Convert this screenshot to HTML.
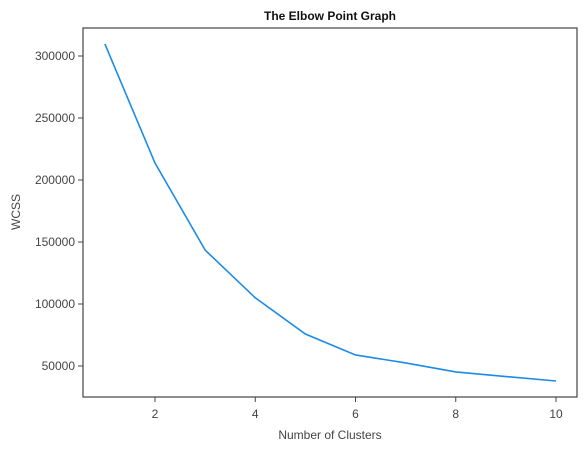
<!DOCTYPE html>
<html><head><meta charset="utf-8"><style>
body{margin:0;background:#fff;}
svg text{font-family:"Liberation Sans",sans-serif;}
</style></head><body>
<svg id="chart" width="588" height="451">
<rect x="83" y="28" width="494" height="369" fill="none" stroke="#444" stroke-width="1.2"/>
<text x="330" y="20" text-anchor="middle" font-size="12" font-weight="600" fill="#111">The Elbow Point Graph</text>
<text x="330" y="439" text-anchor="middle" font-size="12" fill="#444">Number of Clusters</text>
<text transform="translate(20,212) rotate(-90)" text-anchor="middle" font-size="12" fill="#444">WCSS</text>
<g id="ticks"></g>
<path id="line" fill="none" stroke="#1b8be8" stroke-width="1.6"/>
</svg>
<script>
const clusters=[1,2,3,4,5,6,7,8,9,10];
const wcss=[309700,213700,143500,105000,75800,58900,52500,45200,41500,37900];
const xTicks=[2,4,6,8,10];
const yTicks=[50000,100000,150000,200000,250000,300000];
const xs=v=>155+(v-2)*50.125;
const ys=v=>366-(v-50000)*0.00124;
const g=document.getElementById('ticks');
const NS='http://www.w3.org/2000/svg';
xTicks.forEach(t=>{
 const l=document.createElementNS(NS,'line');
 l.setAttribute('x1',xs(t));l.setAttribute('x2',xs(t));l.setAttribute('y1',397);l.setAttribute('y2',402);l.setAttribute('stroke','#444');
 
 
 g.appendChild(l);
 const tx=document.createElementNS(NS,'text');
 tx.setAttribute('x',xs(t));tx.setAttribute('y',418);tx.setAttribute('text-anchor','middle');tx.setAttribute('font-size','12');tx.setAttribute('fill','#444');
 tx.textContent=t;
 
 
 g.appendChild(tx);
});
yTicks.forEach(t=>{
 const l=document.createElementNS(NS,'line');
 l.setAttribute('x1',78);l.setAttribute('x2',83);l.setAttribute('y1',ys(t));l.setAttribute('y2',ys(t));l.setAttribute('stroke','#444');
 
 
 g.appendChild(l);
 const tx=document.createElementNS(NS,'text');
 tx.setAttribute('x',75);tx.setAttribute('y',ys(t)+4);tx.setAttribute('text-anchor','end');tx.setAttribute('font-size','12');tx.setAttribute('fill','#444');
 tx.textContent=t;
 
 
 g.appendChild(tx);
});
document.getElementById('line').setAttribute('d',clusters.map((c,i)=>(i?'L':'M')+xs(c)+','+ys(wcss[i])).join(' '));
</script>
</body></html>
